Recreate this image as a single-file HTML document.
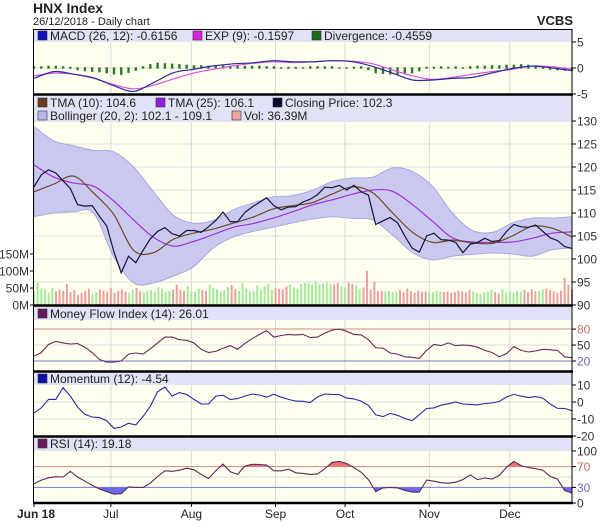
<!DOCTYPE html>
<html><head><meta charset="utf-8"><style>
html,body{margin:0;padding:0;background:#fff;}
svg{display:block;font-family:"Liberation Sans",sans-serif;}
</style></head><body>
<svg id="chart" width="600" height="529" viewBox="0 0 600 529" xmlns="http://www.w3.org/2000/svg">
<text x="33" y="13" font-size="14" font-weight="bold" fill="#222">HNX Index</text>
<text x="33" y="25" font-size="11" fill="#222">26/12/2018 - Daily chart</text>
<text x="573" y="25" font-size="13" font-weight="bold" text-anchor="end" fill="#222">VCBS</text>
<g id="layer"></g>
</svg>
<script>
// ===== data =====
const monthLabels = ["Jun 18","Jul","Aug","Sep","Oct","Nov","Dec"];
const monthDays = [0,21,43,66,85,108,130]; // trading-day index of month starts (of 147)
const closeVals = [115.7,118.3,119.4,118.7,117.0,115.3,111.8,111.5,111.6,109.3,107.2,101.5,97.0,100.6,99.2,101.9,104.4,106.0,106.8,105.5,105.0,106.2,106.2,105.8,107.0,108.4,110.2,108.1,108.1,110.1,111.3,112.3,113.3,111.6,110.7,111.3,111.4,112.4,113.0,114.0,115.6,115.5,116.0,115.0,116.0,114.6,113.9,107.5,108.3,109.0,107.9,105.0,102.4,101.5,105.0,105.6,104.2,104.1,103.6,101.4,103.2,103.6,104.5,103.8,104.0,106.0,107.5,107.0,106.9,107.4,106.0,104.6,104.0,102.7,102.3];
const tma10Vals = [114.6,116.3,118.0,114.3,109.7,101.9,101.4,104.3,105.6,106.5,107.8,109.1,110.9,111.6,112.3,114.2,115.7,114.4,110.0,105.8,103.6,104.1,103.5,103.4,105.0,107.1,106.7,104.8];
const tma25Vals = [120.5,117.8,116.5,115.8,112.6,108.5,104.7,102.8,103.8,105.3,106.9,107.7,108.9,110.3,111.8,112.9,114.1,115.0,114.7,111.8,108.2,104.6,103.7,103.6,103.7,104.5,105.6,105.9];
const bbUpperVals = [128.8,125.7,124.6,123.6,123.3,120.0,114.6,109.5,107.8,108.4,110.7,112.2,113.5,113.8,115.0,116.9,117.6,117.8,119.8,119.0,115.8,110.0,106.2,105.8,107.8,108.9,108.9,109.2];
const bbLowerVals = [109.2,110.0,110.3,109.9,100.5,94.8,94.8,96.3,98.3,102.4,104.8,106.0,106.9,107.9,108.7,109.2,108.8,108.5,105.2,101.4,99.8,100.6,101.0,101.3,101.1,100.6,102.0,102.4];
const volVals = [40,65,48,45,35,50,40,45,42,62,38,44,30,36,42,48,34,38,45,42,40,50,36,42,45,40,35,46,50,40,38,42,44,40,52,48,40,42,45,60,
45,42,55,40,38,48,44,42,60,50,46,40,44,52,58,46,42,64,48,40,42,58,44,55,62,45,50,48,46,55,60,52,48,62,65,64,60,68,62,64,
66,62,60,65,55,52,66,62,58,48,52,100,45,68,40,42,40,42,38,40,
44,38,48,40,36,42,38,40,40,38,42,40,38,40,36,38,42,40,38,44,40,36,34,38,40,44,38,34,46,38,40,36,42,40,44,38,46,40,42,46,48,44,40,36,42,80,60,45];
const macdVals = [-2.0,-0.7,-1.2,-1.9,-3.4,-4.5,-2.8,-0.9,-0.25,0.4,0.8,1.0,1.4,1.2,1.2,1.4,1.2,0.3,-1.0,-2.3,-2.3,-2.0,-1.8,-0.95,-0.1,0.35,0.0,-0.5];
const expVals = [-1.5,-1.0,-1.2,-2.0,-3.2,-4.0,-3.3,-2.1,-1.0,-0.25,0.4,0.9,1.2,1.05,1.2,1.4,1.3,0.8,-0.4,-1.5,-2.2,-1.8,-1.2,-0.7,-0.25,0.4,0.25,-0.25];
const divVals = [0.2,0.2,0.3,0.3,0.2,0.1,-0.3,-0.5,-0.6,-0.7,-0.9,-1.1,-1.2,-0.8,-0.4,0.2,0.6,0.9,0.8,0.7,0.6,0.5,0.4,0.4,0.3,0.4,0.4,0.3,0.4,0.3,0.3,0.3,0.2,0.2,0.0,0.1,0.1,0.0,0.2,0.2,0.2,0.2,0.0,0.0,0.1,0.2,-0.3,-0.9,-1.0,-1.1,-1.1,-1.0,-0.9,-0.5,0.1,0.1,0.2,0.1,0.2,0.0,0.2,0.3,0.3,0.4,0.4,0.5,0.5,0.6,0.5,0.3,0.2,-0.2,-0.3,-0.4,-0.4];
const mfiVals = [29,36,51,57,54,52,53,46,36,23,18,18,20,33,35,33,43,54,65,65,60,59,54,42,36,38,44,49,42,53,62,70,77,65,68,70,69,70,64,65,72,78,80,76,70,69,60,45,44,35,33,28,27,25,40,51,49,54,49,50,49,46,40,36,28,34,47,40,37,39,42,41,40,28,26];
const momVals = [-6.5,-3.5,1.5,1.5,8.5,3.5,-3,-7.3,-8.8,-9.2,-11,-15.5,-14.7,-12.5,-13.5,-8.5,-2.5,6,8.8,3.5,5.5,4.5,1.5,-1.1,-1.2,3.5,4,1.4,2,3.5,4.7,4.1,2.8,4.6,2.8,1.5,0.5,0.4,-0.3,3,4.7,4.5,4.3,2.3,1.8,0.5,-2,-7.5,-8.6,-6.7,-7.8,-9.7,-11,-7.5,-3.8,-3.5,-1.9,-1,0,-1.2,-1.4,-1.7,-0.9,-0.6,0.3,3,4.5,3.5,2.6,3.2,2.3,-1.2,-3.7,-3.8,-5.1];
const rsiVals = [37,44,48.5,50.5,50,61,50,42,34,27,22,17,18,31,30,30,38,51,62,61,63,67,64,55,47,62,75,60,55,71,74.5,74,73,62,62,65,58,57,55,56,66,78,80,76,68,59,45,22,29,30,29,24,21,21,44,42,39,38,40,45,54,45,48,46,53,69,80,72,68,66,63,51,46,24,19];
const priceTicks = [130,125,120,115,110,105,100,95,90];
const volTicks = [0,50,100,150];
const macdTicks = [5,0,-5];
const mfiTicks = [80,50,20];
const momTicks = [10,0,-10,-20];
const rsiTicks = [100,70,30,0];

// ===== geometry =====
const X0 = 34, X1 = 572;
const NS = "http://www.w3.org/2000/svg";
const layer = document.getElementById('layer');
function mk(tag, attrs, parent){ const e=document.createElementNS(NS,tag); for(const k in attrs) e.setAttribute(k,attrs[k]); (parent||layer).appendChild(e); return e; }
function xIdx(i,n){ return X0 + i*(X1-X0)/(n-1); }
const yPrice = v => 121 + (130-v)*4.6;
const yVol = v => 305 - v*0.34;
const yMacd = v => 68 - v*5.2;
const yMfi = v => 371.7 - v*0.533;
const yMom = v => 402 - v*1.7;
const yRsi = v => 503 - v*0.52;

function pathOf(vals, yf){ return vals.map((v,i)=>(i?'L':'M')+xIdx(i,vals.length).toFixed(1)+','+yf(v).toFixed(1)).join(''); }
function pts(vals,yf){ return vals.map((v,i)=>[xIdx(i,vals.length),yf(v)]); }
function smoothPts(p, move){
  let d = move ? 'M'+p[0][0].toFixed(1)+','+p[0][1].toFixed(1) : 'L'+p[0][0].toFixed(1)+','+p[0][1].toFixed(1);
  for(let i=0;i<p.length-1;i++){
    const p0=p[Math.max(0,i-1)], p1=p[i], p2=p[i+1], p3=p[Math.min(p.length-1,i+2)];
    const c1=[p1[0]+(p2[0]-p0[0])/6, p1[1]+(p2[1]-p0[1])/6];
    const c2=[p2[0]-(p3[0]-p1[0])/6, p2[1]-(p3[1]-p1[1])/6];
    d+='C'+c1.map(n=>n.toFixed(1)).join(',')+' '+c2.map(n=>n.toFixed(1)).join(',')+' '+p2.map(n=>n.toFixed(1)).join(',');
  }
  return d;
}
function smooth(vals,yf){ return smoothPts(pts(vals,yf),true); }

const panels = [
 {name:'macd', top:29, band:42, bottom:94},
 {name:'price', top:95, band:122, bottom:305},
 {name:'mfi', top:306, band:320, bottom:371},
 {name:'momentum', top:372, band:385, bottom:436},
 {name:'rsi', top:437, band:451, bottom:503}
];
panels.forEach(p=>{
  const bg = mk('rect',{x:X0,y:p.top,width:X1-X0,height:p.bottom-p.top,fill:'#fffff0'});
  
  
  const band = mk('rect',{x:X0,y:p.top,width:X1-X0,height:p.band-p.top,fill:'#e2e2f6'});
  
  
  monthDays.slice(1).forEach(d=>{
    const g = mk('line',{x1:xIdx(d,148),x2:xIdx(d,148),y1:p.band,y2:p.bottom,stroke:'#d8d8d8','stroke-width':1});
    
    
  });
});
function hgrid(ticks, yf, top, bottom){
  ticks.forEach(t=>{ const y=yf(t); if(y>top+1 && y<bottom-1){
    const g=mk('line',{x1:X0,x2:X1,y1:y,y2:y,stroke:'#dcdcdc','stroke-width':1});
    
    
  }});
}
hgrid([0],yMacd,42,94);
hgrid(priceTicks,yPrice,122,305);
hgrid([50],yMfi,320,371);
hgrid([0,-10],yMom,385,436);
hgrid([50],yRsi,451,503);

function axisLabels(ticks, yf, fmt, colorF){
  ticks.forEach(t=>{
    const y=yf(t);
    const tk=mk('line',{x1:X1,x2:X1+4,y1:y,y2:y,stroke:'#000'});
    
    
    const tx=mk('text',{x:X1+5,y:y+4.5,'font-size':12,fill:colorF?colorF(t):'#333'});
    tx.textContent=fmt(t);
    
    
  });
}
axisLabels(macdTicks,yMacd,t=>String(t));
axisLabels(priceTicks,yPrice,t=>String(t));
axisLabels(mfiTicks,yMfi,t=>String(t),t=>t==80?'#c07070':t==20?'#6a6ab0':'#333');
axisLabels(momTicks,yMom,t=>String(t));
axisLabels(rsiTicks,yRsi,t=>String(t),t=>t==70?'#c07070':t==30?'#6a6ab0':'#333');
volTicks.forEach(t=>{
  const y=yVol(t);
  const tk=mk('line',{x1:X0-4,x2:X0,y1:y,y2:y,stroke:'#000'});
  
  
  const tx=mk('text',{x:X0-5,y:y+4.5,'font-size':12,fill:'#333','text-anchor':'end'});
  tx.textContent=t+'M';
  
  
});

// ===== MACD panel =====
divVals.forEach((v,i)=>{
  const x=xIdx(i,divVals.length), y0=yMacd(0), y1=yMacd(v);
  const b=mk('rect',{x:x-1.2,y:Math.min(y0,y1)-0.7,width:2.4,height:Math.abs(y1-y0)+1.4,fill:'#2a7a1e'});
  
  
});
let e;
e=mk('path',{d:smooth(expVals,yMacd),fill:'none',stroke:'#e050e0','stroke-width':1.2});
 
e=mk('path',{d:smooth(macdVals,yMacd),fill:'none',stroke:'#2a2a9a','stroke-width':1.2});
 

// ===== price panel =====
const bbD = smooth(bbUpperVals,yPrice) + smoothPts(pts(bbLowerVals,yPrice).reverse(),false) + 'Z';
e=mk('path',{d:bbD,fill:'#c9c9f0',stroke:'#a8a8e0','stroke-width':1});
 
volVals.forEach((v,i)=>{
  const ci=Math.min(closeVals.length-1,Math.floor(i/2));
  const up = ci===0 ? true : closeVals[ci]>=closeVals[ci-1];
  const x=xIdx(i,volVals.length);
  const b=mk('rect',{x:x-1,y:yVol(v),width:2,height:305-yVol(v),fill:up?'#a6e89c':'#eaa0a0'});
  
  
});
e=mk('path',{d:smooth(tma25Vals,yPrice),fill:'none',stroke:'#a030d8','stroke-width':1.2});
 
e=mk('path',{d:smooth(tma10Vals,yPrice),fill:'none',stroke:'#704828','stroke-width':1.2});
 
e=mk('path',{d:pathOf(closeVals,yPrice),fill:'none',stroke:'#141438','stroke-width':1.2});
 

// ===== MFI =====
e=mk('line',{x1:X0,x2:X1,y1:yMfi(80),y2:yMfi(80),stroke:'#d08a8a'});
 
e=mk('line',{x1:X0,x2:X1,y1:yMfi(20),y2:yMfi(20),stroke:'#7a7ac8'});
 
e=mk('path',{d:pathOf(mfiVals,yMfi),fill:'none',stroke:'#6a2a5a','stroke-width':1.1});
 

// ===== Momentum =====
e=mk('path',{d:pathOf(momVals,yMom),fill:'none',stroke:'#2a2aa0','stroke-width':1.1});
 

// ===== RSI =====
const defs=mk('defs',{});
const c1=mk('clipPath',{id:'above70'},defs); mk('rect',{x:X0,y:451,width:X1-X0,height:yRsi(70)-451},c1);
const c2=mk('clipPath',{id:'below30'},defs); mk('rect',{x:X0,y:yRsi(30),width:X1-X0,height:503-yRsi(30)},c2);
const rl=pathOf(rsiVals,yRsi);
const n=rsiVals.length;
e=mk('path',{d:rl+'L'+xIdx(n-1,n)+','+yRsi(70)+'L'+X0+','+yRsi(70)+'Z',fill:'#f07070','clip-path':'url(#above70)'});
 
e=mk('path',{d:rl+'L'+xIdx(n-1,n)+','+yRsi(30)+'L'+X0+','+yRsi(30)+'Z',fill:'#6a6af0','clip-path':'url(#below30)'});
 
e=mk('line',{x1:X0,x2:X1,y1:yRsi(70),y2:yRsi(70),stroke:'#d08a8a'});
 
e=mk('line',{x1:X0,x2:X1,y1:yRsi(30),y2:yRsi(30),stroke:'#7a7ac8'});
 
e=mk('path',{d:rl,fill:'none',stroke:'#5a2a5a','stroke-width':1.1});
 

// ===== borders =====
e=mk('rect',{x:33.5,y:29.5,width:X1-33.5,height:503-29.5,fill:'none',stroke:'#000','stroke-width':1});
 
[94.5,305.5,371.5,436.5,503].forEach(y=>{
  const l=mk('line',{x1:33,x2:X1+1,y1:y,y2:y,stroke:'#000','stroke-width':2.5});
  
  
});

// ===== legends =====
function legend(x,y,color,label,name){
  const s=mk('rect',{x:x,y:y-9,width:9,height:9,fill:color,stroke:'#333','stroke-width':0.6});
  
  
  const t=mk('text',{x:x+12,y:y,'font-size':12,fill:'#222'});
  t.textContent=label;
  
  
}
legend(38,40,'#1010c0','MACD (26, 12): -0.6156','macd');
legend(193,40,'#e020e0','EXP (9): -0.1597','exp');
legend(312,40,'#1a6a1a','Divergence: -0.4559','divergence');
legend(38,107,'#6a3a1a','TMA (10): 104.6','tma-10');
legend(156,107,'#9020e0','TMA (25): 106.1','tma-25');
legend(273,107,'#0a0a30','Closing Price: 102.3','closing-price');
legend(38,120,'#b8b8ec','Bollinger (20, 2): 102.1 - 109.1','bollinger');
legend(232,120,'#eaa8a0','Vol: 36.39M','volume');
legend(38,318,'#6a1a5a','Money Flow Index (14): 26.01','mfi');
legend(38,383,'#1010b0','Momentum (12): -4.54','momentum');
legend(38,448,'#6a1a5a','RSI (14): 19.18','rsi');

// ===== x axis =====
monthLabels.forEach((m,k)=>{
  const x=xIdx(monthDays[k],148);
  const tk=mk('line',{x1:x,x2:x,y1:503,y2:507,stroke:'#000'});
  
  
  const t=mk('text',{x:k===0?17:x,y:518,'font-size':12,fill:'#222','text-anchor':k===0?'start':'middle','font-weight':k===0?'bold':'normal'});
  t.textContent=m;
  
  
});
</script>
</body></html>
